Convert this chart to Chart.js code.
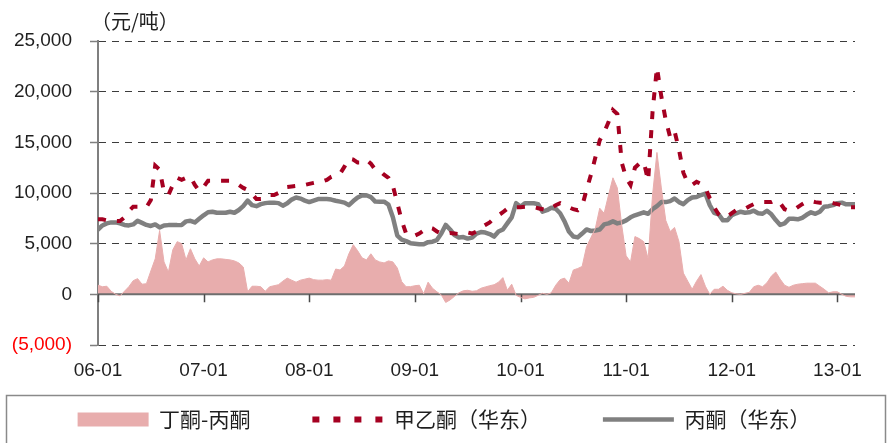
<!DOCTYPE html>
<html>
<head>
<meta charset="utf-8">
<script src="https://cdn.jsdelivr.net/npm/chart.js@4.4.0/dist/chart.umd.min.js"></script>
<style>
html,body{margin:0;padding:0;background:#ffffff;}
canvas{display:block;}
</style>
</head>
<body>
<canvas id="c" width="888" height="443"></canvas>
<script>
// ---- data (semi-monthly observations starting 2006-01) ----
const xTickLabels = ['06-01','07-01','08-01','09-01','10-01','11-01','12-01','13-01'];
const seriesNames = ['丁酮-丙酮', '甲乙酮（华东）', '丙酮（华东）'];
const unitText = '（元/吨）';
const stepMonths = 0.5;

// 丁酮-丙酮 spread (area)
const spread = [
  900,750,800,300,0,-150,300,750,1350,1550,
  1000,1050,2300,3500,6300,3200,2200,4400,5200,5000,
  3400,4500,3500,2800,3600,3200,3400,3500,3500,3450,
  3400,3300,3100,2700,250,800,
  800,750,300,750,850,950,1300,1600,1400,1200,
  1400,1500,1600,1450,1400,1400,1450,1400,2500,2400,
  2800,4000,4900,4300,3600,3400,4000,3400,3200,3100,
  3300,3200,2600,1250,750,
  760,850,900,50,1200,600,250,-50,-800,-550,
  -200,150,350,400,300,350,600,730,850,950,
  1200,1650,400,1000,-100,-300,-450,-350,-300,-100,
  100,0,150,900,1450,
  1600,1100,2400,2550,2750,4700,5600,6500,8500,8000,
  9800,11500,10500,6800,3800,3200,5700,5500,5200,3500,
  9800,14000,10500,7300,6200,6600,5200,2100,1300,500,
  1300,1950,800,0,500,500,
  800,400,150,50,0,100,200,750,900,750,
  1150,1800,2200,1500,900,700,900,1000,1050,1100,
  1100,1100,800,500,150,250,250,0,-200,-250,
  -250
];

// 甲乙酮（华东）
const mek = [
  7400,7400,7300,7250,7250,7230,7600,8200,8650,8650,
  8600,8600,9300,12700,12300,10100,9800,10800,11500,11300,
  11500,11600,10800,10200,10600,11200,11200,11200,11200,11200,
  11200,11000,10800,10500,10300,9900,
  9400,9400,9450,9800,9800,10000,10300,10600,10650,10700,
  10800,10800,10900,11000,11100,11150,11300,11600,11780,11900,
  12600,13400,13300,13000,13000,13270,12900,12300,12200,11800,
  11500,10700,9000,7300,6000,
  5750,5800,6000,6300,6600,6500,6200,6000,6000,6050,
  6000,5950,6000,6100,6000,6200,6600,6850,7100,7500,
  7800,8100,8450,8600,8600,8600,8650,8650,8600,8500,
  8400,8300,8500,8800,9000,
  8800,8600,8400,8300,8700,10300,11800,13500,15200,16000,
  17000,18200,17800,13000,11500,10800,12500,12900,13100,11200,
  18000,22400,19500,17200,15500,16100,14300,12000,11000,10800,
  11100,10900,10500,9500,8600,7900,
  7600,7700,8000,8300,8400,8450,8700,8900,9000,9100,
  9100,9100,9300,9000,8400,8250,8300,8600,8900,9150,
  9200,9100,9050,9050,9100,9000,8900,8800,8650,8600,
  8600
];

// 丙酮（华东）
const acetone = [
  6400,6800,7000,7100,7100,7000,6850,6800,6900,7250,
  7050,6850,6750,6900,6600,6800,6830,6830,6830,6850,
  7200,7260,7100,7450,7800,8100,8150,8050,8050,8050,
  8150,8050,8320,8700,9250,8800,
  8700,8900,9000,9050,9050,9000,8750,8980,9350,9550,
  9450,9250,9100,9250,9400,9400,9400,9350,9240,9150,
  9050,8800,9200,9550,9750,9780,9600,9150,9140,9140,
  8850,7600,5800,5400,5250,
  5050,5000,4950,4950,5150,5200,5350,6000,6850,6400,
  5850,5600,5650,5500,5600,6000,6150,6100,5950,5700,
  6200,6400,7000,7600,9000,8650,9000,9000,8980,8900,
  8150,8300,8550,8450,8000,
  7200,6200,5700,5620,6000,6400,6250,6300,6400,6900,
  7000,7200,7000,7100,7300,7600,7800,7950,8100,7950,
  8400,8700,9100,9100,9200,9450,9100,8900,9300,9550,
  9600,9800,9950,8800,8050,7900,
  7300,7300,7800,8000,8150,8050,8100,8250,8000,7950,
  8250,7900,7330,6850,7000,7450,7450,7400,7550,7850,
  8100,7950,8150,8650,8700,8800,9000,9050,8880,8900,
  8900
];

// ---- styles ----
const PINK = '#E8ADAD';
const RED = '#A50021';
const GRAY = '#808080';
const TEXT = '#1f1f1f';
const NUM_FONT = "'Liberation Sans', Arial, sans-serif";
const CJK_FONT = "'Noto Sans CJK SC', 'Noto Sans', sans-serif";

const toPoints = arr => arr.map((v, i) => ({ x: i * stepMonths, y: v }));
const fmt = v => Math.abs(v).toLocaleString('en-US');

Chart.defaults.font.family = NUM_FONT;

const zeroLinePlugin = {
  id: 'zeroLine',
  beforeDatasetsDraw(chart) {
    const { ctx, chartArea, scales } = chart;
    const y0 = scales.y.getPixelForValue(0);
    ctx.save();
    ctx.strokeStyle = '#6e6e6e';
    ctx.lineWidth = 2;
    ctx.beginPath();
    ctx.moveTo(chartArea.left, y0);
    ctx.lineTo(chartArea.right, y0);
    ctx.stroke();
    ctx.strokeStyle = '#4a4a4a';
    ctx.lineWidth = 1.5;
    ctx.beginPath();
    scales.x.ticks.forEach(t => {
      const x = Math.round(scales.x.getPixelForValue(t.value)) + 0.5;
      ctx.moveTo(x, y0);
      ctx.lineTo(x, y0 + 8);
    });
    ctx.stroke();
    ctx.restore();
  }
};

const legendRowPlugin = {
  id: 'legendRow',
  beforeDraw(chart) {
    const lg = chart.legend;
    if (!lg) return;
    const pad = lg.options.labels.padding;
    lg.top = lg.bottom - 34 - pad;
  }
};

const decorPlugin = {
  id: 'decor',
  afterDraw(chart) {
    const { ctx, chartArea } = chart;
    const lg = chart.legend;
    ctx.save();
    // legend frame
    ctx.strokeStyle = '#8a8a8a';
    ctx.lineWidth = 1.5;
    ctx.strokeRect(lg.left + 6.5, lg.bottom - 47.5, lg.right - lg.left - 9, 60);
    // unit label
    ctx.fillStyle = TEXT;
    ctx.font = "20px " + CJK_FONT;
    ctx.textAlign = 'left';
    ctx.textBaseline = 'middle';
    ctx.fillText(unitText, chartArea.left - 7, chartArea.top - 20);
    ctx.restore();
  }
};

new Chart(document.getElementById('c').getContext('2d'), {
  type: 'line',
  data: {
    datasets: [
      {
        label: seriesNames[0],
        data: toPoints(spread),
        borderColor: PINK,
        backgroundColor: PINK,
        borderWidth: 1,
        fill: 'origin',
        pointRadius: 0,
        tension: 0
      },
      {
        label: seriesNames[1],
        data: toPoints(mek),
        borderColor: RED,
        backgroundColor: RED,
        borderWidth: 4,
        borderDash: [8, 11],
        borderCapStyle: 'butt',
        fill: false,
        pointRadius: 0,
        tension: 0
      },
      {
        label: seriesNames[2],
        data: toPoints(acetone),
        borderColor: GRAY,
        backgroundColor: GRAY,
        borderWidth: 4.5,
        borderJoinStyle: 'round',
        borderCapStyle: 'round',
        fill: false,
        pointRadius: 0,
        tension: 0
      }
    ]
  },
  options: {
    responsive: false,
    animation: false,
    devicePixelRatio: 1,
    layout: { padding: { top: 41, right: 0, left: 0, bottom: 0 } },
    scales: {
      x: {
        type: 'linear',
        min: 0,
        max: 86,
        offset: false,
        afterFit(s) { s.height = 50; },
        grid: { display: false, drawTicks: false },
        border: { display: false },
        ticks: {
          stepSize: 12,
          includeBounds: false,
          autoSkip: false,
          maxRotation: 0,
          padding: 14,
          color: TEXT,
          font: { size: 19, family: NUM_FONT },
          callback: v => (xTickLabels[v / 12] !== undefined ? xTickLabels[v / 12] : '')
        }
      },
      y: {
        min: -5000,
        max: 25000,
        afterFit(s) { s.width = 98; },
        ticks: {
          stepSize: 5000,
          padding: 18,
          color: c => (c.tick && c.tick.value < 0 ? '#FF0000' : TEXT),
          font: { size: 19, family: NUM_FONT },
          callback: v => (v < 0 ? '(' + fmt(v) + ')' : fmt(v))
        },
        grid: {
          color: '#3c3c3c',
          lineWidth: 1,
          tickLength: 8,
          tickColor: '#7f7f7f',
          tickWidth: 1.5,
          tickBorderDash: []
        },
        border: { display: true, color: '#7f7f7f', width: 2, dash: [7, 6] }
      },
      // empty right-hand spacer so the plot ends where the reference ends
      yRight: {
        position: 'right',
        display: true,
        afterFit(s) { s.width = 33; },
        grid: { display: false, drawTicks: false },
        border: { display: false },
        ticks: { display: false }
      }
    },
    plugins: {
      filler: { drawTime: 'beforeDatasetsDraw' },
      tooltip: { enabled: false },
      legend: {
        position: 'bottom',
        maxHeight: 48,
        labels: {
          usePointStyle: true,
          pointStyleWidth: 71,
          boxHeight: 14,
          padding: 62,
          color: TEXT,
          font: { family: CJK_FONT, size: 21 },
          generateLabels(chart) {
            const items = Chart.defaults.plugins.legend.labels.generateLabels(chart);
            const styles = [
              { pointStyle: 'rect', fillStyle: PINK, strokeStyle: PINK, lineWidth: 0, lineDash: [] },
              { pointStyle: 'line', fillStyle: RED, strokeStyle: RED, lineWidth: 6, lineDash: [7, 14], lineCap: 'butt' },
              { pointStyle: 'line', fillStyle: GRAY, strokeStyle: GRAY, lineWidth: 4.5, lineDash: [], lineCap: 'butt' }
            ];
            return items.map((it, i) => Object.assign(it, styles[i], { fontColor: TEXT }));
          }
        }
      }
    }
  },
  plugins: [zeroLinePlugin, legendRowPlugin, decorPlugin]
});
</script>
</body>
</html>
